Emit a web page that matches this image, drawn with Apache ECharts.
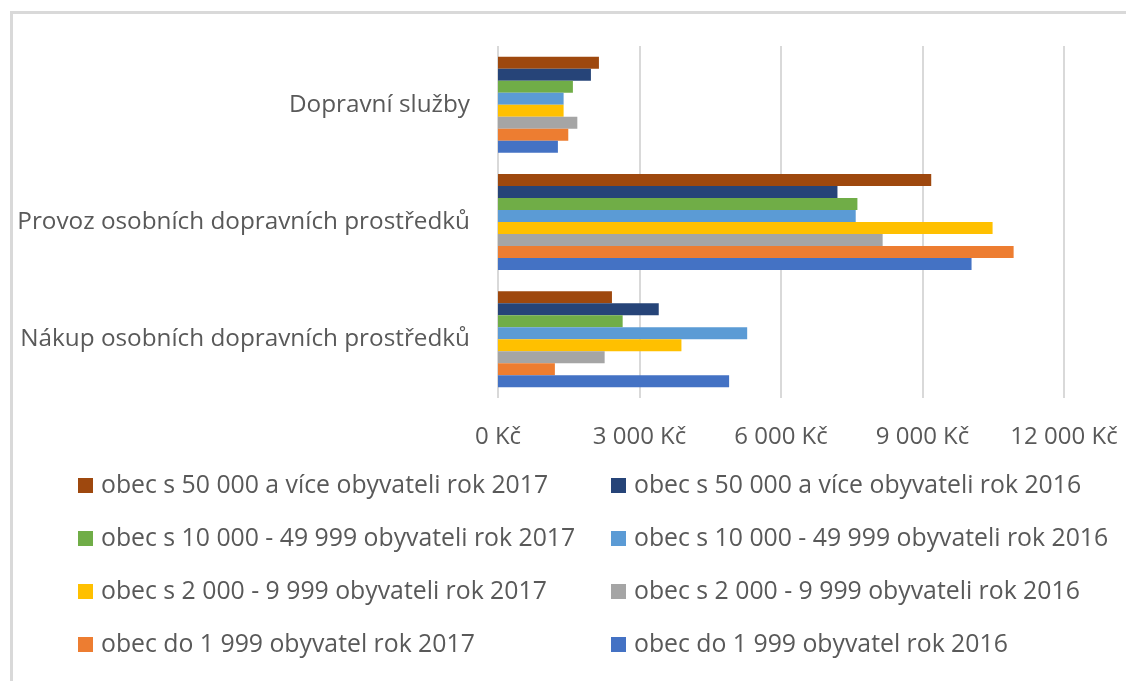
<!DOCTYPE html>
<html>
<head>
<meta charset="utf-8">
<script src="https://cdn.jsdelivr.net/npm/echarts@6/dist/echarts.min.js"></script>
<style>
  html, body { margin: 0; padding: 0; background: #fff; }
  #frame {
    position: absolute; left: 10px; top: 11px; right: -10px; bottom: -10px;
    border-left: 3px solid #d9d9d9; border-top: 3px solid #d9d9d9;
  }
  #chart { position: absolute; left: 0; top: 0; width: 1126px; height: 681px; }
</style>
</head>
<body>
<div id="frame"></div>
<div id="chart"></div>
<script>
// kategorie (zdola nahoru)
const categories = [
  'Nákup osobních dopravních prostředků',
  'Provoz osobních dopravních prostředků',
  'Dopravní služby'
]
// názvy řad (pořadí od horního sloupce ve skupině)
const seriesNames = [
  'obec s 50 000 a více obyvateli rok 2017',
  'obec s 50 000 a více obyvateli rok 2016',
  'obec s 10 000 - 49 999 obyvateli rok 2017',
  'obec s 10 000 - 49 999 obyvateli rok 2016',
  'obec s 2 000 - 9 999 obyvateli rok 2017',
  'obec s 2 000 - 9 999 obyvateli rok 2016',
  'obec do 1 999 obyvatel rok 2017',
  'obec do 1 999 obyvatel rok 2016'
]
const colors = ['#9e480e', '#264478', '#70ad47', '#5b9bd5', '#ffc000', '#a5a5a5', '#ed7d31', '#4472c4']
// hodnoty v Kč: [Nákup, Provoz, Dopravní služby]
const s50000_2017 = [2416, 9185, 2140]
const s50000_2016 = [3408, 7197, 1970]
const s10000_2017 = [2643, 7620, 1588]
const s10000_2016 = [5283, 7584, 1391]
const s2000_2017 = [3889, 10486, 1391]
const s2000_2016 = [2261, 8155, 1682]
const do1999_2017 = [1206, 10932, 1490]
const do1999_2016 = [4900, 10040, 1270]
const values = [s50000_2017, s50000_2016, s10000_2017, s10000_2016, s2000_2017, s2000_2016, do1999_2017, do1999_2016]
const xTicks = [0, 3000, 6000, 9000, 12000]

const font = 'Open Sans'
const textColor = '#595959'

const chart = echarts.init(document.getElementById('chart'))

function fmtKc(v) {
  return String(v).replace(/\B(?=(\d{3})+(?!\d))/g, ' ') + ' Kč'
}

const legendBase = {
  orient: 'vertical',
  icon: 'rect',
  itemWidth: 15,
  itemHeight: 15,
  itemGap: 28,
  top: 468,
  textStyle: { color: textColor, fontFamily: font, fontSize: 24.8, lineHeight: 25, padding: [0, 0, 0, 3] },
  selectedMode: false
}

let option = {
  animation: false,
  color: colors,
  grid: { left: 498, right: 62, top: 46, bottom: 283 },
  legend: [
    Object.assign({}, legendBase, { left: 73, data: [seriesNames[0], seriesNames[2], seriesNames[4], seriesNames[6]] }),
    Object.assign({}, legendBase, { left: 606, data: [seriesNames[1], seriesNames[3], seriesNames[5], seriesNames[7]] })
  ],
  xAxis: {
    type: 'value',
    min: xTicks[0],
    max: xTicks[xTicks.length - 1],
    interval: 3000,
    axisLine: { show: false },
    axisTick: { show: false },
    axisLabel: {
      color: textColor, fontFamily: font, fontSize: 24, margin: 27,
      formatter: fmtKc
    },
    splitLine: { lineStyle: { color: '#d9d9d9', width: 2 } }
  },
  yAxis: {
    type: 'category',
    data: categories,
    axisLine: { show: false },
    axisTick: { show: false },
    axisLabel: { color: textColor, fontFamily: font, fontSize: 24.3, margin: 28 }
  },
  series: seriesNames.map((name, i) => ({
    name: name,
    type: 'bar',
    barGap: 0,
    barCategoryGap: '18.2%',
    data: values[i]
  }))
}
chart.setOption(option)
</script>
</body>
</html>
